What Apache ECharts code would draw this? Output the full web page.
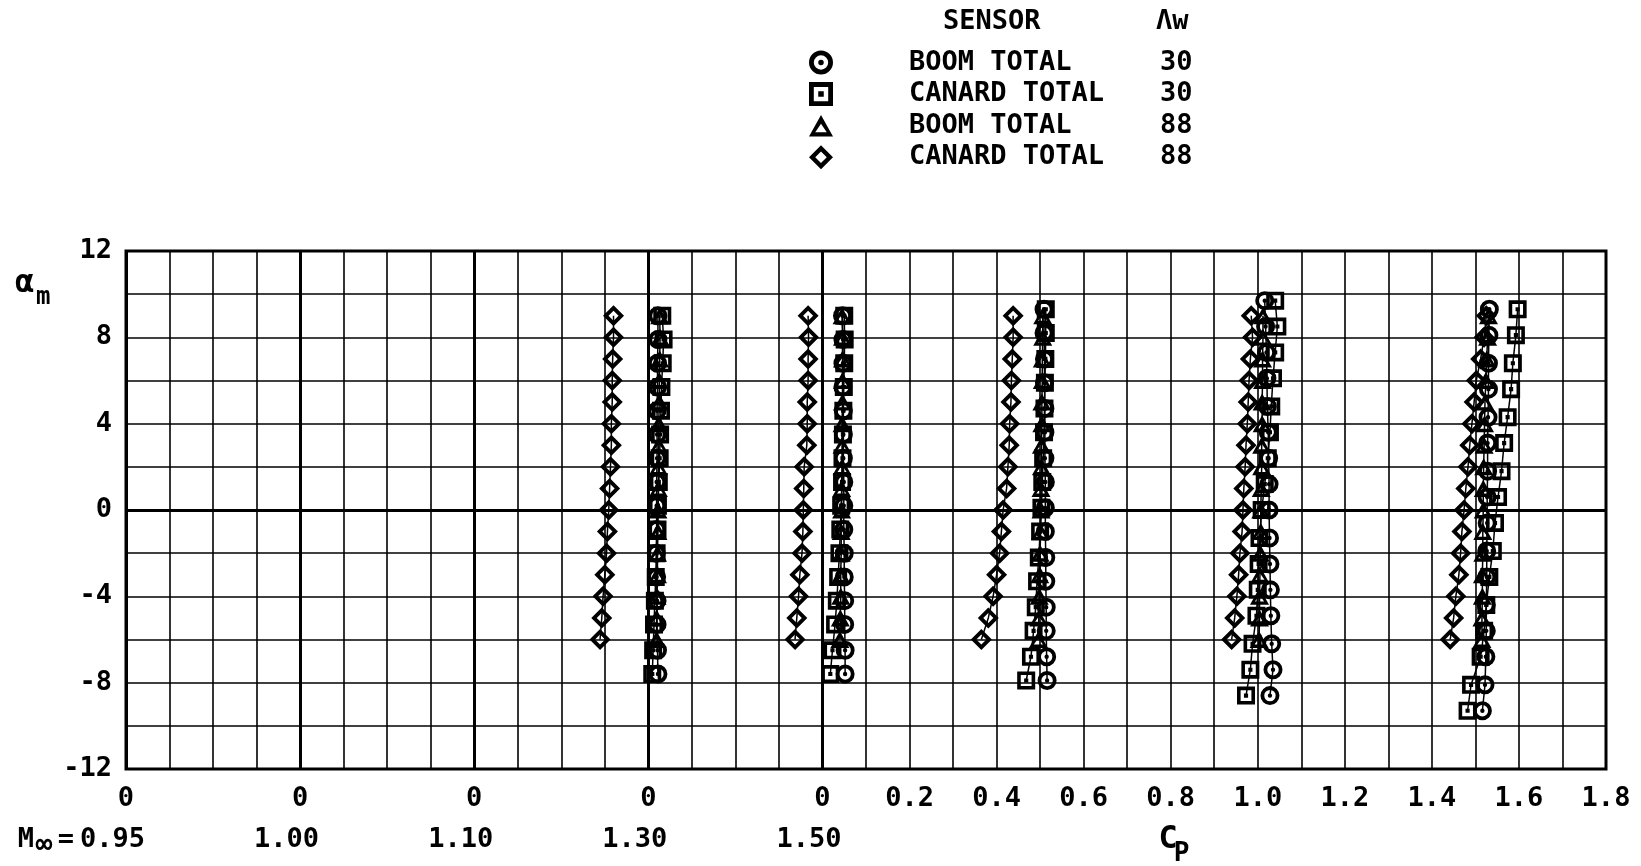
<!DOCTYPE html>
<html>
<head>
<meta charset="utf-8">
<script src="https://cdn.jsdelivr.net/npm/echarts@6/dist/echarts.min.js"></script>
<style>
  html, body { margin: 0; padding: 0; background: #fff; }
  #chart { width: 1641px; height: 866px; }
</style>
</head>
<body>
<div id="chart"></div>
<script>
// Each Mach number has its own Cp origin along one shared x scale.
const machNumbers = ['0.95', '1.00', '1.10', '1.30', '1.50'];
const frameOffsets = [-1.6, -1.2, -0.8, -0.4, 0];
const cpTicks = [0.2, 0.4, 0.6, 0.8, 1.0, 1.2, 1.4, 1.6, 1.8];
const alphaTicks = [-12, -8, -4, 0, 4, 8, 12];

// Sensor legend
const sensorNames = ['BOOM TOTAL', 'CANARD TOTAL', 'BOOM TOTAL', 'CANARD TOTAL'];
const sweepAngles = ['30', '30', '88', '88'];

// Angle of attack, alpha_m (deg)
const alpha88 = [9, 8, 7, 6, 5, 4, 3, 2, 1, 0, -1, -2, -3, -4, -5, -6];
const alpha30 = [
  [9.0, 7.9, 6.8, 5.7, 4.6, 3.5, 2.4, 1.3, 0.2, -0.9, -2.0, -3.1, -4.2, -5.3, -6.5, -7.6],
  [9.0, 7.9, 6.8, 5.7, 4.6, 3.5, 2.4, 1.3, 0.2, -0.9, -2.0, -3.1, -4.2, -5.3, -6.5, -7.6],
  [9.3, 8.2, 7.0, 5.9, 4.7, 3.6, 2.4, 1.3, 0.1, -1.0, -2.2, -3.3, -4.5, -5.6, -6.8, -7.9],
  [9.7, 8.5, 7.3, 6.1, 4.8, 3.6, 2.4, 1.2, 0.0, -1.3, -2.5, -3.7, -4.9, -6.2, -7.4, -8.6],
  [9.3, 8.1, 6.8, 5.6, 4.3, 3.1, 1.8, 0.6, -0.6, -1.9, -3.1, -4.4, -5.6, -6.8, -8.1, -9.3]
];

// Total-pressure coefficient Cp, one row per Mach number
const boom30Cp = [
  [1.222, 1.222, 1.221, 1.221, 1.220, 1.220, 1.220, 1.219, 1.219, 1.219, 1.218, 1.219, 1.220, 1.220, 1.221, 1.222],
  [1.246, 1.247, 1.247, 1.247, 1.248, 1.248, 1.248, 1.249, 1.249, 1.249, 1.250, 1.250, 1.251, 1.251, 1.252, 1.252],
  [1.309, 1.309, 1.310, 1.310, 1.311, 1.311, 1.311, 1.312, 1.312, 1.312, 1.313, 1.313, 1.314, 1.314, 1.315, 1.316],
  [1.416, 1.418, 1.420, 1.421, 1.422, 1.424, 1.425, 1.426, 1.426, 1.427, 1.428, 1.429, 1.430, 1.432, 1.435, 1.428],
  [1.532, 1.531, 1.530, 1.530, 1.529, 1.528, 1.528, 1.527, 1.527, 1.526, 1.526, 1.525, 1.525, 1.524, 1.522, 1.516]
];
const canard30Cp = [
  [1.232, 1.235, 1.233, 1.230, 1.229, 1.227, 1.226, 1.224, 1.222, 1.221, 1.219, 1.217, 1.215, 1.213, 1.211, 1.209],
  [1.250, 1.251, 1.250, 1.249, 1.248, 1.247, 1.246, 1.245, 1.243, 1.241, 1.239, 1.236, 1.233, 1.229, 1.223, 1.218],
  [1.313, 1.313, 1.312, 1.311, 1.310, 1.309, 1.307, 1.305, 1.303, 1.300, 1.297, 1.293, 1.290, 1.285, 1.279, 1.268],
  [1.440, 1.445, 1.440, 1.435, 1.431, 1.428, 1.423, 1.416, 1.409, 1.404, 1.402, 1.400, 1.397, 1.388, 1.383, 1.373],
  [1.597, 1.593, 1.586, 1.582, 1.574, 1.566, 1.560, 1.552, 1.545, 1.540, 1.532, 1.525, 1.520, 1.512, 1.490, 1.482]
];
const boom88Cp = [
  [1.226, 1.227, 1.226, 1.225, 1.225, 1.224, 1.224, 1.223, 1.223, 1.222, 1.222, 1.221, 1.221, 1.220, 1.219, 1.219],
  [1.245, 1.246, 1.246, 1.246, 1.246, 1.245, 1.245, 1.245, 1.244, 1.244, 1.243, 1.243, 1.242, 1.242, 1.241, 1.240],
  [1.306, 1.306, 1.305, 1.305, 1.304, 1.304, 1.303, 1.303, 1.302, 1.302, 1.301, 1.300, 1.299, 1.298, 1.297, 1.296],
  [1.412, 1.412, 1.411, 1.411, 1.410, 1.410, 1.409, 1.409, 1.408, 1.407, 1.407, 1.406, 1.405, 1.404, 1.404, 1.403],
  [1.530, 1.528, 1.526, 1.524, 1.522, 1.521, 1.520, 1.519, 1.518, 1.518, 1.517, 1.517, 1.516, 1.516, 1.515, 1.515]
];
const canard88Cp = [
  [1.120, 1.120, 1.118, 1.117, 1.117, 1.115, 1.115, 1.113, 1.111, 1.109, 1.106, 1.104, 1.100, 1.096, 1.093, 1.089],
  [1.167, 1.168, 1.167, 1.167, 1.165, 1.165, 1.164, 1.158, 1.157, 1.156, 1.155, 1.153, 1.148, 1.145, 1.141, 1.137],
  [1.238, 1.238, 1.236, 1.234, 1.233, 1.230, 1.229, 1.226, 1.223, 1.215, 1.211, 1.207, 1.200, 1.192, 1.181, 1.165],
  [1.385, 1.388, 1.383, 1.380, 1.378, 1.376, 1.373, 1.371, 1.368, 1.366, 1.364, 1.359, 1.356, 1.352, 1.347, 1.340],
  [1.525, 1.520, 1.512, 1.502, 1.497, 1.492, 1.487, 1.483, 1.478, 1.474, 1.469, 1.466, 1.462, 1.455, 1.450, 1.442]
];

// Plotter-style hollow markers (outer outline with a cut-out; circle and square carry a centre dot)
const SYM_CIRCLE = 'path://M10 0A10 10 0 1 1 10 20A10 10 0 1 1 10 0Z' +
  'M10 4.0A6.0 6.0 0 1 0 10 16.0A6.0 6.0 0 1 0 10 4.0Z' +
  'M10 7.7A2.3 2.3 0 1 1 10 12.3A2.3 2.3 0 1 1 10 7.7Z';
const SYM_SQUARE = 'path://M0 0H20V20H0Z M4.0 4.0V16.0H16.0V4.0Z M7.7 7.7H12.3V12.3H7.7Z';
const SYM_TRIANGLE = 'path://M10 0L20 18L0 18Z M10 7.4L5.2 14.4L14.8 14.4Z';
const SYM_DIAMOND = 'path://M10 0L20 10L10 20L0 10Z M10 5.2L5.2 10L10 14.8L14.8 10Z';

const FONT = '"DejaVu Sans Mono", "Liberation Mono", monospace';
const INK = '#000';

const seriesNames = sensorNames.map((s, i) => s + ' ' + sweepAngles[i]);
const sensorCp = [boom30Cp, canard30Cp, boom88Cp, canard88Cp];
const sensorAlpha = [alpha30, alpha30, machNumbers.map(() => alpha88), machNumbers.map(() => alpha88)];
const sensorSymbols = [SYM_CIRCLE, SYM_SQUARE, SYM_TRIANGLE, SYM_DIAMOND];
const sensorSizes = [[19, 19], [18, 18], [19, 17], [21, 21]];
const drawOrder = [3, 2, 0, 1];

// x-axis tick label text, keyed by tenths
const tickText = {};
frameOffsets.forEach(o => { tickText[Math.round(o * 10)] = '0'; });
cpTicks.forEach(t => { tickText[Math.round(t * 10)] = t.toFixed(1); });

const series = [];
// origins of each Mach frame and the alpha = 0 line, drawn heavy
series.push({
  type: 'line',
  name: 'frames',
  data: frameOffsets.map(o => [o, 0]),
  symbol: 'none',
  lineStyle: { opacity: 0 },
  silent: true,
  z: 1,
  markLine: {
    silent: true,
    symbol: 'none',
    label: { show: false },
    lineStyle: { color: INK, width: 3, type: 'solid' },
    data: frameOffsets.map(o => ({ xAxis: o })).concat([{ yAxis: 0 }])
  }
});

drawOrder.forEach(si => {
  machNumbers.forEach((m, fi) => {
    series.push({
      type: 'line',
      name: seriesNames[si],
      data: sensorAlpha[si][fi].map((a, k) => [sensorCp[si][fi][k] + frameOffsets[fi], a]),
      symbol: sensorSymbols[si],
      symbolSize: sensorSizes[si],
      showAllSymbol: true,
      lineStyle: { color: INK, width: 1.5 },
      itemStyle: { color: INK, borderWidth: 0 },
      emphasis: { disabled: true },
      z: 3
    });
  });
});

const chart = echarts.init(document.getElementById('chart'), null, { renderer: 'canvas' });

const LEGEND_TEXT = { color: INK, fontFamily: FONT, fontWeight: 'bold', fontSize: 27, lineHeight: 24 };

const option = {
  animation: false,
  backgroundColor: '#fff',
  grid: {
    left: 126, right: 35, top: 251, bottom: 97,
    show: true, borderColor: INK, borderWidth: 3, backgroundColor: 'transparent'
  },
  legend: {
    data: seriesNames.map((n, i) => ({ name: n, icon: sensorSymbols[i] })),
    orient: 'vertical',
    left: 804, top: 44,
    itemWidth: 24, itemHeight: 24,
    itemGap: 4.6,
    selectedMode: true,
    inactiveColor: '#bbb',
    formatter: name => {
      const i = seriesNames.indexOf(name);
      return '{n|' + sensorNames[i] + '}{v|' + sweepAngles[i] + '}';
    },
    textStyle: Object.assign({}, LEGEND_TEXT, {
      rich: {
        n: Object.assign({}, LEGEND_TEXT, { width: 251, padding: [0, 0, 0, 71] }),
        v: Object.assign({}, LEGEND_TEXT)
      }
    })
  },
  xAxis: {
    type: 'value',
    min: -1.6, max: 1.8, interval: 0.1,
    axisLine: { show: false },
    axisTick: { show: false },
    splitLine: { show: true, lineStyle: { color: INK, width: 1.6 } },
    axisLabel: {
      show: true,
      margin: 16,
      showMinLabel: true, showMaxLabel: true,
      color: INK, fontFamily: FONT, fontWeight: 'bold', fontSize: 27,
      formatter: v => tickText[Math.round(v * 10)] || ''
    }
  },
  yAxis: {
    type: 'value',
    min: -12, max: 12, interval: 2,
    axisLine: { show: false },
    axisTick: { show: false },
    splitLine: { show: true, lineStyle: { color: INK, width: 1.6 } },
    axisLabel: {
      margin: 14,
      color: INK, fontFamily: FONT, fontWeight: 'bold', fontSize: 27,
      formatter: v => (alphaTicks.indexOf(v) >= 0 ? String(v) : '')
    }
  },
  series: series
};

chart.setOption(option);

// Text placed against the axes: Mach numbers, axis names, legend header
const xpx = v => chart.convertToPixel({ xAxisIndex: 0 }, v);
const textStyle = (text, size, align) => ({
  text: text, fill: INK, font: 'bold ' + size + 'px ' + FONT, textAlign: align, textVerticalAlign: 'middle'
});
const graphics = [];
const MACH_Y = 840;
machNumbers.forEach((m, i) => {
  const right = xpx(frameOffsets[i]) + 19;
  graphics.push({ type: 'text', x: right, y: MACH_Y, style: textStyle(m, 27, 'right') });
  if (i === 0) {
    graphics.push({ type: 'text', x: 66, y: MACH_Y, style: textStyle('=', 27, 'center') });
    graphics.push({ type: 'text', x: 44, y: MACH_Y + 6, style: textStyle('\u221e', 28, 'center') });
    graphics.push({ type: 'text', x: 34, y: MACH_Y, style: textStyle('M', 27, 'right') });
  }
});
const cpX = xpx(0.8);
graphics.push({ type: 'text', x: cpX + 7, y: MACH_Y, style: textStyle('C', 32, 'right') });
graphics.push({ type: 'text', x: cpX + 3, y: MACH_Y + 14, style: textStyle('P', 26, 'left') });
graphics.push({ type: 'text', x: 15, y: 284, style: textStyle('\u03b1', 32, 'left') });
graphics.push({ type: 'text', x: 36, y: 298, style: textStyle('m', 24, 'left') });
graphics.push({ type: 'text', x: 943, y: 22, style: textStyle('SENSOR', 27, 'left') });
graphics.push({ type: 'text', x: 1156, y: 22, style: textStyle('\u039bw', 27, 'left') });
chart.setOption({ graphic: graphics });
</script>
</body>
</html>
